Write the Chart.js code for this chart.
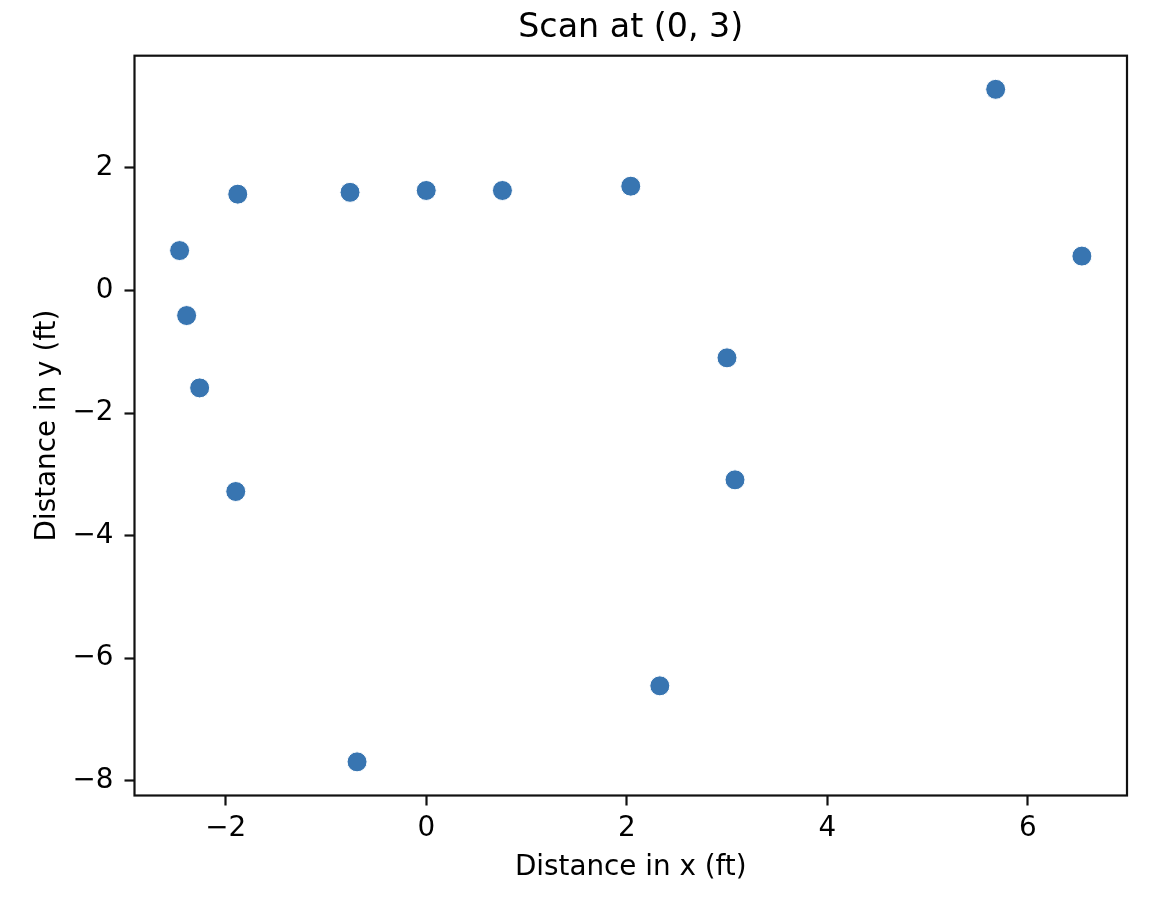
<!DOCTYPE html>
<html>
<head>
<meta charset="utf-8">
<script src="https://cdn.jsdelivr.net/npm/chart.js@4/dist/chart.umd.min.js"></script>
<style>
  html, body { margin: 0; padding: 0; background: #fff; }
  #wrap { width: 1174px; height: 902px; }
</style>
</head>
<body>
<div id="wrap"><canvas id="ScanChart" width="1174" height="902"></canvas></div>
<script>
const chartTitle = 'Scan at (0, 3)';
const xLabel = 'Distance in x (ft)';
const yLabel = 'Distance in y (ft)';

// scan points (ft)
const xValues = [5.68, 6.54, 2.04, 0.76, 0.00, -0.76, -1.88, -2.46, -2.39, -2.26, -1.90, 3.00, 3.08, 2.33, -0.69];
const yValues = [3.28, 0.56, 1.70, 1.63, 1.63, 1.60, 1.57, 0.65, -0.41, -1.59, -3.28, -1.10, -3.09, -6.45, -7.69];

// tick labels
const xTicks = [-2, 0, 2, 4, 6];
const yTicks = [-8, -6, -4, -2, 0, 2];

const pointColor = 'rgb(56, 117, 177)';
const fontFamily = "'DejaVu Sans', sans-serif";

// matplotlib-style 5% margins around the data
function paddedRange(values) {
    const lo = Math.min(...values);
    const hi = Math.max(...values);
    const pad = (hi - lo) * 0.05;
    return { min: lo - pad, max: hi + pad };
}
const xRange = paddedRange(xValues);
const yRange = paddedRange(yValues);

const points = xValues.map((x, i) => ({ x: x, y: yValues[i] }));

// minus sign like matplotlib
const tickText = (v) => String(v).replace('-', '\u2212');

// full box around the plot area
const frame = {
    id: 'frame',
    afterDatasetsDraw(chart) {
        const { ctx, chartArea: a } = chart;
        ctx.save();
        ctx.strokeStyle = '#111';
        ctx.lineWidth = 2.2;
        ctx.strokeRect(a.left, a.top, a.right - a.left, a.bottom - a.top);
        ctx.restore();
    }
};

const tickGrid = {
    drawOnChartArea: false,
    drawTicks: true,
    tickLength: 10,
    tickWidth: 2.2,
    tickColor: '#111'
};

const ctx = document.getElementById('ScanChart');
new Chart(ctx, {
    type: 'scatter',
    data: {
        datasets: [
            {
                data: points,
                backgroundColor: pointColor,
                borderColor: '#fff',
                borderWidth: 1,
                pointRadius: 10,
                pointHoverRadius: 10
            }
        ]
    },
    options: {
        responsive: false,
        animation: false,
        devicePixelRatio: 1,
        layout: {
            padding: { left: 0, right: 47, top: 0, bottom: 0 }
        },
        plugins: {
            legend: { display: false },
            tooltip: { enabled: false },
            title: { display: false }
        },
        scales: {
            x: {
                type: 'linear',
                position: 'bottom',
                min: xRange.min,
                max: xRange.max,
                bounds: 'data',
                border: { display: false },
                grid: tickGrid,
                ticks: {
                    padding: 7,
                    color: '#000',
                    maxRotation: 0,
                    autoSkip: false,
                    font: { family: fontFamily, size: 27.8 },
                    callback: tickText
                },
                afterBuildTicks: (scale) => { scale.ticks = xTicks.map(v => ({ value: v })); },
                title: {
                    display: true,
                    text: xLabel,
                    color: '#000',
                    font: { family: fontFamily, size: 27.8 },
                    padding: { top: 0, bottom: 17.6 }
                },
                afterFit: (scale) => { scale.height = 106.5; }
            },
            // top axis only carries the title, centred over the plot like matplotlib
            top: {
                type: 'linear',
                axis: 'x',
                position: 'top',
                border: { display: false },
                grid: { display: false },
                ticks: { display: false },
                title: {
                    display: true,
                    text: chartTitle,
                    color: '#000',
                    font: { family: fontFamily, size: 33.3, lineHeight: 1.2 },
                    padding: { top: 8, bottom: 0 }
                },
                afterFit: (scale) => { scale.height = 55.7; }
            },
            y: {
                type: 'linear',
                position: 'left',
                min: yRange.min,
                max: yRange.max,
                bounds: 'data',
                border: { display: false },
                grid: tickGrid,
                ticks: {
                    padding: 11,
                    color: '#000',
                    autoSkip: false,
                    font: { family: fontFamily, size: 27.8 },
                    callback: tickText
                },
                afterBuildTicks: (scale) => { scale.ticks = yTicks.map(v => ({ value: v })); },
                title: {
                    display: true,
                    text: yLabel,
                    color: '#000',
                    font: { family: fontFamily, size: 27.8 },
                    padding: { top: 31, bottom: 0 }
                },
                afterFit: (scale) => { scale.width = 134.5; }
            }
        }
    },
    plugins: [frame]
});
</script>
</body>
</html>
